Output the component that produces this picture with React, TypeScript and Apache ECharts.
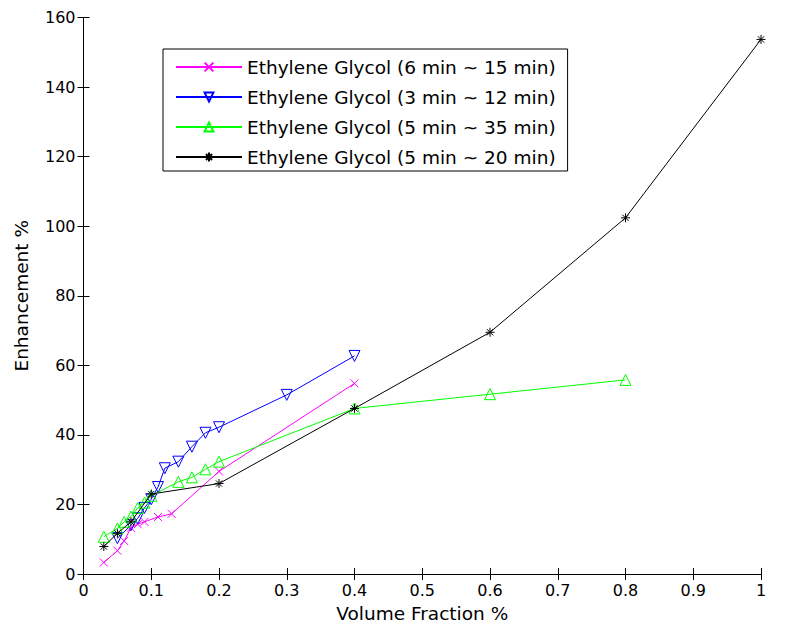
import React, { useEffect, useRef } from "react";
import * as echarts from "echarts";

const seriesNames = [
  "Ethylene Glycol (6 min ~ 15 min)",
  "Ethylene Glycol (3 min ~ 12 min)",
  "Ethylene Glycol (5 min ~ 35 min)",
  "Ethylene Glycol (5 min ~ 20 min)",
];
const seriesColors = ["#ff00ff", "#0000ff", "#00ff00", "#000000"];

const magentaX = [0.03, 0.05, 0.06, 0.07, 0.08, 0.09, 0.11, 0.13, 0.2, 0.4];
const magentaY = [3.3, 6.7, 9.5, 13.3, 14.3, 15, 16.4, 17.3, 29.5, 54.8];

const blueX = [0.05, 0.07, 0.08, 0.09, 0.1, 0.11, 0.12, 0.14, 0.16, 0.18, 0.2, 0.3, 0.4];
const blueY = [10.3, 14, 16, 19, 21.5, 25, 30.4, 32.3, 36.6, 40.6, 42.2, 51.5, 62.7];

const greenX = [0.03, 0.05, 0.06, 0.07, 0.08, 0.09, 0.1, 0.14, 0.16, 0.18, 0.2, 0.4, 0.6, 0.8];
const greenY = [10.7, 13.1, 15, 16.5, 19, 20.5, 22.5, 26.5, 27.8, 30.1, 32.3, 47.6, 51.7, 55.8];

const blackX = [0.03, 0.05, 0.07, 0.1, 0.2, 0.4, 0.6, 0.8, 1.0];
const blackY = [7.9, 11.7, 15, 23, 26, 47.6, 69.5, 102.4, 153.7];

const xTicks = [0, 0.1, 0.2, 0.3, 0.4, 0.5, 0.6, 0.7, 0.8, 0.9, 1];
const yTicks = [0, 20, 40, 60, 80, 100, 120, 140, 160];

const xName = "Volume Fraction %";
const yName = "Enhancement %";

const symbols = [
  "path://M0,0L10,10M10,0L0,10",
  "path://M0,0L10,0L5,8.66Z",
  "path://M5,0L10,8.66L0,8.66Z",
  "path://M5,0L5,10M0,5L10,5M1.5,1.5L8.5,8.5M8.5,1.5L1.5,8.5",
];
const symbolSizes = [8, 11, 11, 9];

const FONT = "'DejaVu Sans', 'Liberation Sans', Arial, sans-serif";

export default function App() {
  const ref = useRef<HTMLDivElement>(null);
  useEffect(() => {
    if (!ref.current) return;
    const chart = echarts.init(ref.current, null, { renderer: "svg" });
    const xs = [magentaX, blueX, greenX, blackX];
    const ys = [magentaY, blueY, greenY, blackY];
    const axisCommon = {
      axisLine: { show: true, lineStyle: { color: "#000", width: 1 } },
      axisTick: { show: true, inside: true, length: 6, lineStyle: { color: "#000" } },
      splitLine: { show: false },
    };
    chart.setOption({
      animation: false,
      backgroundColor: "#fff",
      textStyle: { fontFamily: FONT },
      grid: { left: 83.5, right: 26, top: 17.5, bottom: 57, containLabel: false },
      legend: {
        orient: "vertical",
        left: 163,
        top: 49,
        data: seriesNames,
        itemWidth: 66,
        itemHeight: 11,
        itemGap: 10,
        padding: [8, 12, 4, 12],
        borderColor: "#000",
        borderWidth: 1,
        backgroundColor: "#fff",
        textStyle: { fontSize: 18.5, color: "#000", fontFamily: FONT, lineHeight: 20 },
      },
      xAxis: [
        {
          type: "value",
          min: 0,
          max: 1,
          interval: 0.1,
          name: xName,
          nameLocation: "middle",
          nameGap: 30,
          nameTextStyle: { fontSize: 18.5, color: "#000", fontFamily: FONT },
          axisLabel: {
            fontSize: 16,
            color: "#000",
            margin: 8,
            fontFamily: FONT,
            formatter: (v: number) => {
              const t = xTicks.find((k) => Math.abs(k - v) < 1e-9);
              return t === undefined ? "" : String(t);
            },
          },
          ...axisCommon,
        },
        {
          type: "value",
          position: "top",
          min: 0,
          max: 1,
          interval: 0.1,
          axisLabel: { show: false },
          ...axisCommon,
        },
      ],
      yAxis: [
        {
          type: "value",
          min: 0,
          max: 160,
          interval: 20,
          name: yName,
          nameLocation: "middle",
          nameGap: 53,
          nameTextStyle: { fontSize: 18.5, color: "#000", fontFamily: FONT },
          axisLabel: {
            fontSize: 16,
            color: "#000",
            margin: 8,
            fontFamily: FONT,
            formatter: (v: number) => (yTicks.includes(v) ? String(v) : ""),
          },
          ...axisCommon,
        },
        {
          type: "value",
          position: "right",
          min: 0,
          max: 160,
          interval: 20,
          axisLabel: { show: false },
          ...axisCommon,
        },
      ],
      series: seriesNames.map((name, i) => ({
        name,
        type: "line",
        xAxisIndex: 0,
        yAxisIndex: 0,
        data: xs[i].map((x, j) => [x, ys[i][j]]),
        symbol: symbols[i],
        symbolSize: symbolSizes[i],
        showAllSymbol: true,
        lineStyle: { color: seriesColors[i], width: 1 },
        itemStyle: { color: "rgba(0,0,0,0)", borderColor: seriesColors[i], borderWidth: 1 },
        emphasis: { disabled: true },
        z: 2 + i,
      })),
    });
    return () => chart.dispose();
  }, []);
  return (
    <div
      ref={ref}
      style={{ position: "fixed", left: 0, top: 0, width: 787, height: 631 }}
    />
  );
}
